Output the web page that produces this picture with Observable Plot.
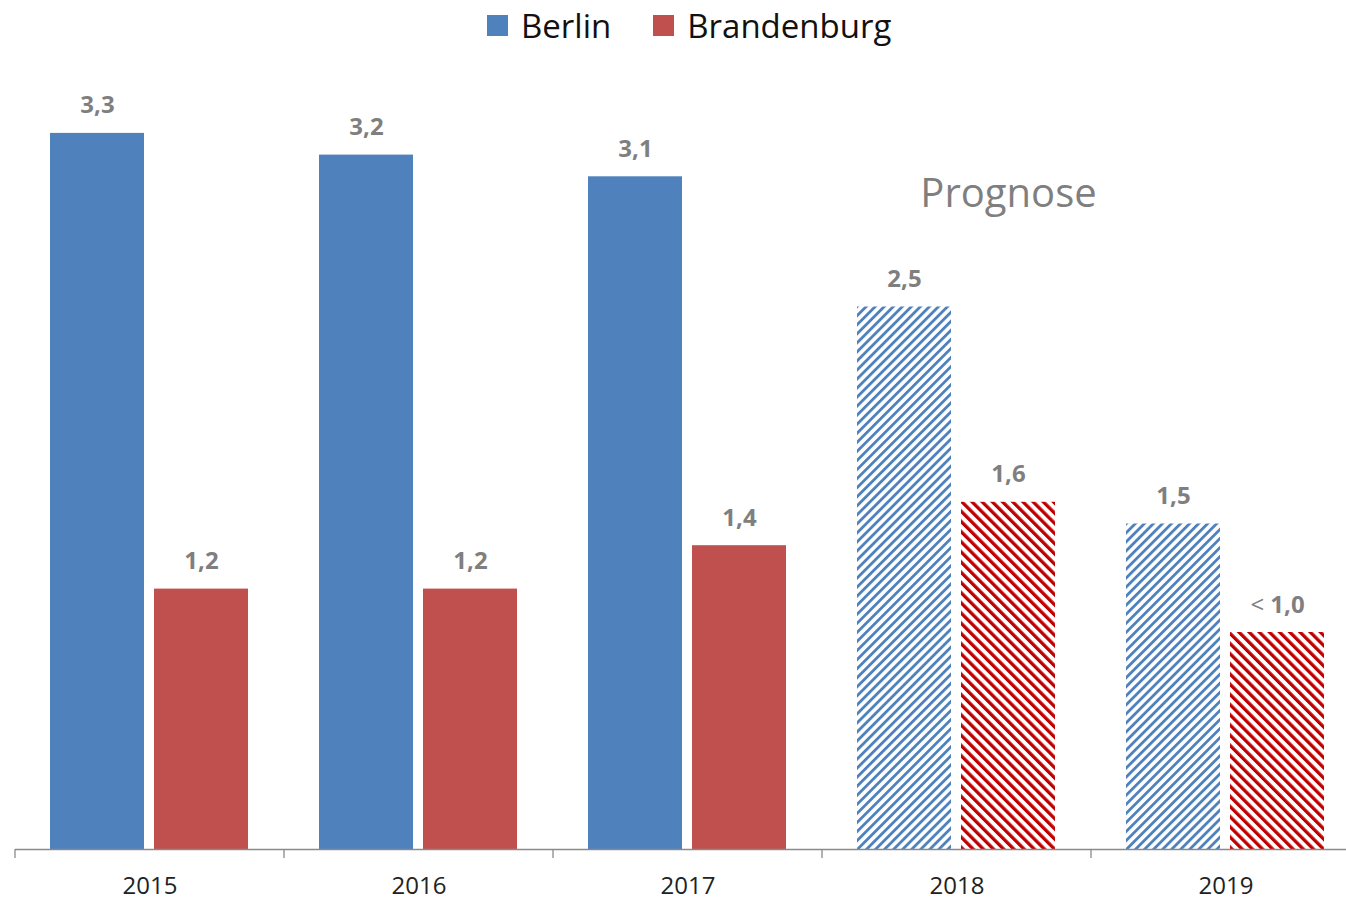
<!DOCTYPE html>
<html>
<head>
<meta charset="utf-8">
<script src="https://cdn.jsdelivr.net/npm/d3@7"></script>
<script src="https://cdn.jsdelivr.net/npm/@observablehq/plot@0.6"></script>
<style>
  body { margin: 0; background: #fff; overflow: hidden; font-family: "Open Sans", sans-serif; }
  #legend { position: relative; height: 55px; }
  #legend .items { position: absolute; left: 487px; top: 0; height: 50px; display: flex; align-items: center; }
  #legend .item { display: flex; align-items: center; margin-right: 42px; }
  #legend .sw { width: 21px; height: 21px; margin-right: 13px; }
  #legend .lb { font-size: 33px; color: #111; line-height: 1; }
</style>
</head>
<body>
<div id="legend"><div class="items"></div></div>
<div id="chart"></div>
<script>
// ---- data ----
const years = ["2015", "2016", "2017", "2018", "2019"];
const series = ["Berlin", "Brandenburg"];
const berlin = [3.3, 3.2, 3.1, 2.5, 1.5];
const brandenburg = [1.2, 1.2, 1.4, 1.6, 1.0];
const labelsBerlin = ["3,3", "3,2", "3,1", "2,5", "1,5"];
const labelsBrandenburg = ["1,2", "1,2", "1,4", "1,6", "< 1,0"];
const forecast = [false, false, false, true, true];
const seriesColors = ["#4f81bd", "#c0504d"];
const hatchColors = ["#4f81bd", "#c00000"];
const annotation = ["Prognose"];
const annotationYear = ["2018"];
const annotationSeries = ["Brandenburg"];
const annotationValue = [3.0];

// ---- table ----
const values = [berlin, brandenburg];
const labels = [labelsBerlin, labelsBrandenburg];
const rows = [];
years.forEach((yr, i) => {
  series.forEach((s, j) => {
    rows.push({
      year: yr, series: s, value: values[j][i], label: labels[j][i],
      key: forecast[i] ? s + " Prognose" : s
    });
  });
});
const keyDomain = [...series, ...series.map(s => s + " Prognose")];
const keyRange = [...seriesColors, ...series.map((s, j) => `url(#hatch${j})`)];

// ---- legend ----
const items = d3.select("#legend .items");
series.forEach((s, j) => {
  const it = items.append("div").attr("class", "item");
  it.append("div").attr("class", "sw").style("background", seriesColors[j]);
  it.append("div").attr("class", "lb").text(s);
});

// ---- chart ----
const chart = Plot.plot({
  width: 1361,
  height: 845,
  marginLeft: 14,
  marginRight: 0,
  marginTop: 34.5,
  marginBottom: 51,
  style: { maxWidth: "none", fontFamily: "'Open Sans', sans-serif", fontSize: "24px", color: "#222", background: "#fff" },
  fx: { domain: years, padding: 0, label: null, tickSize: 0, tickPadding: 27, axis: "bottom" },
  x: { domain: series, paddingInner: 0.096, paddingOuter: 0.339, axis: null },
  y: { domain: [0, 3.5], axis: null },
  color: { type: "ordinal", domain: keyDomain, range: keyRange },
  marks: [
    Plot.barY(rows, { fx: "year", x: "series", y: "value", fill: "key" }),
    Plot.ruleY([0], { stroke: "#8a8a8a", strokeWidth: 1.3 }),
    Plot.text(rows, {
      fx: "year", x: "series", y: "value", text: "label",
      lineAnchor: "bottom", dy: -20, fontWeight: "bold", fontSize: 24, fill: "#7f7f7f"
    }),
    Plot.text(annotation, {
      fx: annotationYear, x: annotationSeries, y: annotationValue, text: d => d,
      fontSize: 40, fill: "#7f7f7f", lineAnchor: "middle", dy: -4
    })
  ]
});

const svg = d3.select(chart);

// "<" in normal weight, as in the reference
svg.selectAll("text").filter(function () { return this.textContent.startsWith("<"); })
  .each(function () {
    const t = d3.select(this);
    const rest = this.textContent.slice(1);
    t.text(null);
    t.append("tspan").attr("font-weight", "normal").text("<");
    t.append("tspan").text(rest);
  });

// hatch patterns
const defs = svg.insert("defs", ":first-child");
const hatch = [
  { id: "hatch0", color: hatchColors[0], size: 6.4, sw: 2.8, rot: 45 },
  { id: "hatch1", color: hatchColors[1], size: 7.2, sw: 3.3, rot: -45 }
];
hatch.forEach(h => {
  const p = defs.append("pattern")
    .attr("id", h.id)
    .attr("patternUnits", "userSpaceOnUse")
    .attr("width", h.size).attr("height", h.size)
    .attr("patternTransform", `rotate(${h.rot})`);
  p.append("rect").attr("width", h.size).attr("height", h.size).attr("fill", "#fff");
  p.append("rect").attr("x", 0).attr("y", 0).attr("width", h.sw).attr("height", h.size).attr("fill", h.color);
});

// category boundary ticks (from the fx scale)
const fx = chart.scale("fx");
const y = chart.scale("y");
const y0 = y.apply(0);
const bounds = years.map(v => fx.apply(v));
bounds.push(fx.apply(years[years.length - 1]) + fx.step);
svg.append("g").selectAll("line").data(bounds).join("line")
  .attr("x1", d => d).attr("x2", d => d)
  .attr("y1", y0).attr("y2", y0 + 9)
  .attr("stroke", "#8a8a8a").attr("stroke-width", 1.3);

document.getElementById("chart").appendChild(chart);
</script>
</body>
</html>
